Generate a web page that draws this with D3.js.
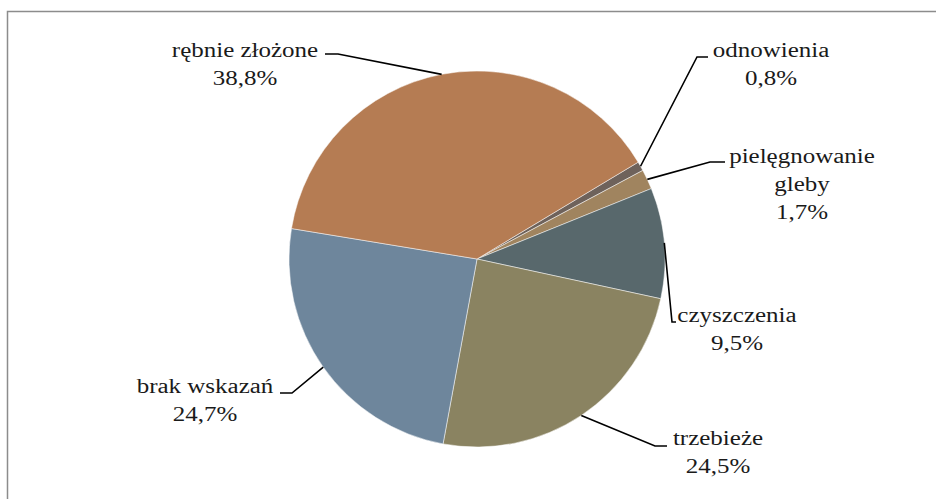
<!DOCTYPE html>
<html>
<head>
<meta charset="utf-8">
<script src="https://cdn.jsdelivr.net/npm/d3@7"></script>
<style>
    body { margin: 0; background: #fff; }
    svg { display: block; }
</style>
</head>
<body>
<div id="chart"></div>
<script>
// data
var categories = ["odnowienia", "pielęgnowanie gleby", "czyszczenia", "trzebieże", "brak wskazań", "rębnie złożone"];
var shares = [0.8, 1.7, 9.5, 24.5, 24.7, 38.8];
var labelLines = [["odnowienia"], ["pielęgnowanie", "gleby"], ["czyszczenia"], ["trzebieże"], ["brak wskazań"], ["rębnie złożone"]];
var colors = ["#6e625b", "#a0845f", "#58686c", "#8a8361", "#6e869c", "#b57c53"];

var areaWidth = 936, areaHeight = 499;
var cx = 477, cy = 259, radius = 188;

// label layout: text centre, first baseline, leader elbow and end of horizontal tick
var labelLayout = [
    { x: 771, y: 57, elbow: [697, 57], tick: [708, 57] },
    { x: 802, y: 163, elbow: [710, 162], tick: [725, 162] },
    { x: 737, y: 322, elbow: [672, 322], tick: [676, 322] },
    { x: 718, y: 445, elbow: [655, 446], tick: [667, 446] },
    { x: 205, y: 393, elbow: [292, 393], tick: [280, 393] },
    { x: 245, y: 57, elbow: [338, 54], tick: [325, 54] }
];
var lineGap = 28;
// Garamond-like width: Liberation Serif stretched horizontally
var stretch = 1.25;

var svg = d3.select("#chart").append("svg")
    .attr("width", areaWidth)
    .attr("height", areaHeight);

// frame (only top and left edges visible)
svg.append("path")
    .attr("d", "M7.5," + areaHeight + "V11.5H" + areaWidth)
    .style("fill", "none")
    .style("stroke", "#8c8c8c")
    .style("stroke-width", 1.5);

var startAngle = 59 * Math.PI / 180;
var pie = d3.pie()
    .sort(null)
    .value(function(d) { return d; })
    .startAngle(startAngle)
    .endAngle(startAngle + 2 * Math.PI);

var arcs = pie(shares);
var arc = d3.arc().innerRadius(0).outerRadius(radius);

var g = svg.append("g").attr("transform", "translate(" + cx + "," + cy + ")");

g.selectAll("path")
    .data(arcs)
    .enter()
    .append("path")
    .attr("d", arc)
    .style("fill", function(d, i) { return colors[i]; })
    .style("stroke", "rgba(255,255,255,0.7)")
    .style("stroke-width", 0.7);

// leader lines
svg.selectAll("polyline.leader")
    .data(arcs)
    .enter()
    .append("polyline")
    .attr("class", "leader")
    .attr("points", function(d, i) {
        var a = (d.startAngle + d.endAngle) / 2;
        var px = cx + radius * Math.sin(a);
        var py = cy - radius * Math.cos(a);
        var L = labelLayout[i];
        return [[px, py], L.elbow, L.tick].map(function(p) { return p.join(","); }).join(" ");
    })
    .style("fill", "none")
    .style("stroke", "#000")
    .style("stroke-width", 1.6);

// labels
var labels = svg.selectAll("text.lbl")
    .data(arcs)
    .enter()
    .append("text")
    .attr("class", "lbl")
    .attr("text-anchor", "middle")
    .attr("transform", function(d, i) {
        return "translate(" + labelLayout[i].x + ",0) scale(" + stretch + ",1)";
    })
    .style("font-family", "'Liberation Serif'")
    .style("font-size", "20px")
    .style("fill", "#1a1a1a");

labels.each(function(d, i) {
    var t = d3.select(this);
    var L = labelLayout[i];
    var lines = labelLines[i].concat([shares[i].toFixed(1).replace(".", ",") + "%"]);
    lines.forEach(function(s, k) {
        t.append("tspan")
            .attr("x", 0)
            .attr("y", L.y + k * lineGap)
            .text(s);
    });
});
</script>
</body>
</html>
